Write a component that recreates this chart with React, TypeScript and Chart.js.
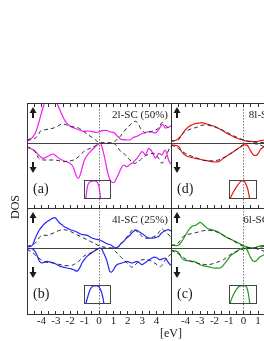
import React, { useEffect, useRef } from "react";
import { Chart, registerables } from "chart.js";

Chart.register(...registerables);

type Pt = [number, number];

// ---------- axis values ----------
const X_MIN = -5;
const X_MAX = 5;
const TICK_LABELS = [-4, -3, -2, -1, 0, 1, 2, 3, 4];
const MINOR_TICKS = [-4.5, -4, -3.5, -3, -2.5, -2, -1.5, -1, -0.5, 0, 0.5, 1, 1.5, 2, 2.5, 3, 3.5, 4, 4.5];

// ---------- panel (a): 2l-SC (50%) ----------
const A_UP: Pt[] = [[-5.0,0.2],[-4.77,0.35],[-4.42,1.0],[-4.19,2.0],[-4.0,3.0],[-3.85,3.7],[-3.66,4.6],[-3.45,5.3],[-3.2,5.0],[-2.92,4.0],[-2.57,2.83],[-2.34,2.17],[-1.99,1.67],[-1.72,1.5],[-1.42,1.33],[-1.07,1.17],[-0.74,1.2],[-0.49,1.17],[-0.19,1.05],[0.09,1.17],[0.33,1.27],[0.56,1.25],[0.78,1.1],[1.01,1.07],[1.2,0.8],[1.36,0.57],[1.55,0.35],[1.71,0.33],[1.97,0.3],[2.17,0.33],[2.38,0.55],[2.64,0.67],[2.87,0.85],[3.1,1.0],[3.33,1.1],[3.56,1.17],[3.77,1.05],[3.91,1.0],[4.14,1.33],[4.26,1.6],[4.38,1.83],[4.47,1.8],[4.6,1.5],[4.78,1.55],[4.95,1.67],[5.0,1.7]];
const A_UP_REF: Pt[] = [[-5.0,0.33],[-4.77,0.4],[-4.42,0.5],[-4.22,0.8],[-4.08,1.17],[-3.73,1.33],[-3.45,1.4],[-3.15,1.5],[-2.9,1.65],[-2.57,1.9],[-2.34,1.85],[-1.99,1.67],[-1.72,1.6],[-1.42,1.5],[-1.16,1.25],[-0.83,0.9],[-0.53,0.6],[-0.26,0.33],[0,0.05],[0.37,0.02],[0.78,0.02],[1.01,0.05],[1.27,0.4],[1.48,0.67],[1.71,1.1],[1.94,1.5],[2.24,1.9],[2.52,2.17],[2.69,2.0],[2.87,1.5],[3.04,1.2],[3.22,1.0],[3.42,1.05],[3.68,1.17],[3.91,1.3],[4.14,1.5],[4.38,2.03],[4.53,1.9],[4.74,1.6],[4.95,1.5],[5.0,1.48]];
const A_DOWN: Pt[] = [[-5.0,-0.4],[-4.77,-0.55],[-4.54,-0.7],[-4.35,-0.95],[-4.19,-1.2],[-4.01,-1.45],[-3.85,-1.53],[-3.66,-1.4],[-3.5,-1.3],[-3.31,-1.15],[-3.15,-1.1],[-3.03,-1.25],[-2.92,-1.37],[-2.76,-1.55],[-2.57,-1.7],[-2.41,-1.8],[-2.22,-1.87],[-2.06,-2.0],[-1.88,-2.2],[-1.75,-2.55],[-1.65,-3.03],[-1.51,-3.45],[-1.42,-3.53],[-1.3,-3.15],[-1.18,-2.53],[-1.07,-1.95],[-0.95,-1.53],[-0.78,-1.15],[-0.6,-0.87],[-0.43,-0.6],[-0.26,-0.37],[-0.08,-0.15],[0.09,-0.03],[0.21,-0.4],[0.32,-1.03],[0.44,-1.8],[0.56,-2.7],[0.67,-3.3],[0.78,-3.7],[0.92,-3.95],[1.05,-3.95],[1.17,-3.65],[1.27,-3.37],[1.48,-2.7],[1.6,-2.35],[1.71,-2.2],[1.83,-2.3],[1.94,-2.37],[2.1,-2.2],[2.29,-2.03],[2.45,-1.8],[2.64,-1.53],[2.8,-1.2],[2.99,-0.87],[3.11,-1.0],[3.22,-1.2],[3.33,-0.9],[3.44,-0.53],[3.56,-0.65],[3.68,-0.87],[3.81,-1.25],[3.91,-1.53],[4.03,-1.3],[4.14,-1.03],[4.26,-1.1],[4.38,-1.2],[4.49,-0.9],[4.6,-0.7],[4.72,-1.1],[4.83,-1.7],[4.95,-2.03],[5.0,-2.1]];
const A_DOWN_REF: Pt[] = [[-5.0,-0.37],[-4.77,-0.5],[-4.54,-0.7],[-4.35,-1.1],[-4.19,-1.53],[-4.0,-1.65],[-3.85,-1.7],[-3.52,-1.7],[-3.15,-1.7],[-2.83,-1.75],[-2.46,-1.87],[-2.13,-1.8],[-1.76,-1.7],[-1.42,-1.37],[-1.07,-0.87],[-0.81,-0.65],[-0.6,-0.53],[-0.36,-0.35],[-0.14,-0.2],[0,-0.03],[0.37,-0.02],[0.78,-0.02],[1.01,-0.03],[1.2,-0.25],[1.38,-0.6],[1.51,-0.85],[1.71,-1.03],[1.9,-1.3],[2.07,-1.6],[2.29,-1.87],[2.42,-2.03],[2.52,-2.03],[2.69,-1.85],[2.87,-1.7],[3.08,-1.4],[3.33,-1.2],[3.56,-1.05],[3.79,-1.03],[3.98,-1.25],[4.14,-1.53],[4.38,-2.03],[4.5,-1.8],[4.6,-1.53],[4.78,-0.9],[4.95,-0.37],[5.0,-0.3]];

// ---------- panel (b): 4l-SC (25%) ----------
const B_UP: Pt[] = [[-5.0,0.13],[-4.77,0.16],[-4.6,0.33],[-4.42,1.0],[-4.25,1.53],[-4.08,1.93],[-3.9,2.23],[-3.73,2.5],[-3.56,2.68],[-3.38,2.83],[-3.24,2.96],[-3.1,3.03],[-3.0,2.98],[-2.9,2.78],[-2.76,2.53],[-2.57,2.33],[-2.41,2.13],[-2.22,2.0],[-1.99,1.83],[-1.76,1.73],[-1.51,1.58],[-1.3,1.4],[-1.09,1.33],[-0.83,1.26],[-0.67,1.15],[-0.49,1.0],[-0.26,0.9],[0,0.83],[0.23,0.68],[0.44,0.5],[0.65,0.38],[0.85,0.28],[1.13,0.0],[1.36,0.16],[1.55,0.48],[1.71,0.66],[1.9,0.98],[2.06,1.16],[2.24,1.43],[2.4,1.66],[2.59,1.78],[2.75,1.66],[2.94,1.48],[3.1,1.33],[3.28,1.13],[3.44,1.0],[3.63,0.98],[3.79,1.0],[3.98,1.08],[4.14,1.16],[4.33,1.48],[4.49,1.66],[4.67,1.78],[4.83,1.83],[4.95,1.73],[5.0,1.7]];
const B_UP_REF: Pt[] = [[-5.0,0.16],[-4.7,0.28],[-4.42,0.5],[-4.25,0.83],[-4.08,1.16],[-3.87,1.28],[-3.61,1.26],[-3.38,1.38],[-3.15,1.5],[-2.81,1.73],[-2.46,1.83],[-2.22,1.78],[-1.99,1.66],[-1.76,1.5],[-1.53,1.33],[-1.3,1.16],[-1.07,1.0],[-0.83,0.83],[-0.6,0.66],[-0.38,0.5],[-0.14,0.33],[0.09,0.16],[0.44,0.08],[0.78,0.0],[1.25,0.0],[1.48,0.33],[1.71,0.66],[1.9,1.03],[2.06,1.33],[2.24,1.68],[2.4,1.93],[2.56,1.73],[2.75,1.5],[2.94,1.23],[3.1,1.0],[3.33,0.98],[3.56,1.0],[3.79,1.13],[4.03,1.33],[4.19,1.63],[4.38,1.93],[4.53,1.73],[4.72,1.5],[4.95,1.16],[5.0,1.1]];
const B_DOWN: Pt[] = [[-5.0,-0.12],[-4.77,-0.05],[-4.54,-0.17],[-4.35,-0.57],[-4.19,-1.17],[-4.08,-1.42],[-3.96,-1.5],[-3.8,-1.42],[-3.61,-1.34],[-3.38,-1.42],[-3.15,-1.5],[-2.92,-1.67],[-2.69,-1.84],[-2.48,-1.92],[-2.22,-2.0],[-1.99,-2.07],[-1.76,-2.17],[-1.53,-2.32],[-1.42,-2.17],[-1.3,-1.87],[-1.18,-1.5],[-1.02,-1.17],[-0.83,-0.84],[-0.6,-0.57],[-0.38,-0.34],[-0.14,-0.14],[0.09,0.0],[0.21,-0.17],[0.32,-0.5],[0.44,-0.87],[0.56,-1.34],[0.67,-1.97],[0.75,-2.37],[0.85,-2.42],[1.01,-2.17],[1.13,-1.87],[1.25,-1.67],[1.41,-1.57],[1.6,-1.5],[1.76,-1.42],[1.94,-1.34],[2.1,-1.42],[2.29,-1.5],[2.45,-1.42],[2.64,-1.34],[2.8,-1.47],[2.99,-1.67],[3.15,-1.52],[3.33,-1.34],[3.5,-1.17],[3.68,-1.0],[3.84,-0.92],[4.03,-1.0],[4.15,-1.12],[4.26,-1.17],[4.43,-1.07],[4.6,-1.0],[4.78,-1.37],[4.95,-1.67],[5.0,-1.72]];
const B_DOWN_REF: Pt[] = [[-5.0,-0.17],[-4.7,-0.37],[-4.31,-0.84],[-4.08,-1.12],[-3.85,-1.34],[-3.52,-1.45],[-3.15,-1.5],[-2.83,-1.62],[-2.46,-1.74],[-2.17,-1.77],[-1.88,-1.74],[-1.65,-1.57],[-1.42,-1.34],[-1.23,-1.07],[-1.07,-0.84],[-0.83,-0.62],[-0.6,-0.5],[-0.26,-0.22],[0,-0.05],[0.37,-0.02],[0.78,-0.02],[0.96,-0.12],[1.13,-0.34],[1.31,-0.57],[1.48,-0.84],[1.71,-1.17],[1.94,-1.5],[2.1,-1.72],[2.29,-1.92],[2.42,-1.82],[2.64,-1.5],[2.8,-1.32],[2.99,-1.17],[3.33,-1.17],[3.68,-1.34],[4.03,-1.67],[4.26,-1.87],[4.4,-1.67],[4.6,-1.17],[4.78,-0.87],[4.95,-0.67],[5.0,-0.62]];

// ---------- panel (d): 8l-SC (12.5%) ----------
const D_UP: Pt[] = [[-5.0,0.2],[-4.61,0.3],[-4.45,0.5],[-4.26,0.8],[-4.1,1.15],[-3.91,1.47],[-3.76,1.65],[-3.57,1.8],[-3.41,1.9],[-3.22,1.97],[-3.06,2.0],[-2.88,2.03],[-2.72,1.98],[-2.53,1.9],[-2.3,1.8],[-2.07,1.7],[-1.84,1.55],[-1.61,1.37],[-1.38,1.2],[-1.15,0.97],[-0.92,0.8],[-0.69,0.63],[-0.46,0.5],[-0.23,0.37],[0,0.27],[0.24,0.2],[0.46,0.17],[0.81,0.13],[1.02,0.17],[1.15,0.23],[1.43,0.3],[1.71,0.4]];
const D_UP_REF: Pt[] = [[-5.0,0.2],[-4.72,0.23],[-4.5,0.3],[-4.31,0.7],[-4.17,1.0],[-4.03,1.13],[-3.69,1.37],[-3.22,1.57],[-2.77,1.8],[-2.53,1.8],[-2.3,1.73],[-1.84,1.53],[-1.38,1.23],[-0.92,0.9],[-0.46,0.57],[0,0.3],[0.46,0.13],[0.93,0.07],[1.43,0.03],[1.71,0.05]];
const D_DOWN: Pt[] = [[-5.0,-0.2],[-4.61,-0.27],[-4.48,-0.35],[-4.38,-0.53],[-4.26,-0.87],[-4.14,-1.08],[-4.03,-1.2],[-3.8,-1.37],[-3.57,-1.45],[-3.34,-1.53],[-3.06,-1.6],[-2.77,-1.7],[-2.48,-1.77],[-2.19,-1.87],[-1.96,-1.9],[-1.73,-1.87],[-1.58,-1.75],[-1.38,-1.53],[-1.21,-1.35],[-1.04,-1.2],[-0.86,-1.02],[-0.69,-0.87],[-0.52,-0.7],[-0.35,-0.53],[-0.16,-0.35],[0,-0.2],[0.15,-0.18],[0.28,-0.25],[0.37,-0.48],[0.46,-0.7],[0.58,-1.0],[0.69,-1.2],[0.81,-1.25],[0.93,-1.2],[1.05,-0.95],[1.15,-0.7],[1.29,-0.5],[1.43,-0.37],[1.71,-0.3]];
const D_DOWN_REF: Pt[] = [[-5.0,-0.2],[-4.72,-0.35],[-4.5,-0.53],[-4.26,-0.8],[-4.03,-1.03],[-3.76,-1.23],[-3.46,-1.37],[-3.17,-1.53],[-2.88,-1.7],[-2.58,-1.78],[-2.3,-1.8],[-2.03,-1.77],[-1.73,-1.7],[-1.44,-1.52],[-1.15,-1.3],[-0.92,-1.08],[-0.69,-0.87],[-0.46,-0.62],[-0.23,-0.37],[-0.06,-0.2],[0.12,-0.1],[0.35,-0.05],[0.58,-0.03],[0.88,-0.1],[1.15,-0.2],[1.43,-0.37],[1.71,-0.45]];

// ---------- panel (c): 6l-SC (16.67%) ----------
const C_UP: Pt[] = [[-5.0,0.33],[-4.61,0.23],[-4.45,0.33],[-4.26,0.66],[-4.1,1.03],[-3.91,1.5],[-3.76,1.83],[-3.57,2.16],[-3.41,2.23],[-3.22,2.33],[-3.1,2.48],[-2.99,2.56],[-2.88,2.48],[-2.77,2.33],[-2.65,2.15],[-2.53,2.0],[-2.37,1.9],[-2.19,1.83],[-1.96,1.73],[-1.73,1.6],[-1.49,1.38],[-1.27,1.16],[-1.04,0.98],[-0.8,0.83],[-0.57,0.66],[-0.35,0.5],[-0.11,0.33],[0.12,0.16],[0.35,0.06],[0.58,0.0],[0.81,0.05],[1.04,0.16],[1.22,0.23],[1.43,0.23],[1.71,0.3]];
const C_UP_REF: Pt[] = [[-5.0,0.23],[-4.72,0.33],[-4.5,0.5],[-4.31,0.88],[-4.15,1.16],[-3.91,1.33],[-3.69,1.4],[-3.22,1.56],[-2.77,1.73],[-2.3,1.76],[-1.84,1.6],[-1.38,1.26],[-0.92,0.9],[-0.46,0.5],[0,0.16],[0.46,0.0],[0.74,0.0],[1.04,0.06],[1.43,0.16],[1.71,0.25]];
const C_DOWN: Pt[] = [[-5.0,-0.24],[-4.61,-0.34],[-4.45,-0.52],[-4.26,-1.0],[-4.1,-1.2],[-3.91,-1.27],[-3.69,-1.3],[-3.46,-1.34],[-3.22,-1.47],[-2.99,-1.67],[-2.77,-1.77],[-2.53,-1.84],[-2.3,-1.92],[-2.07,-2.0],[-1.84,-2.02],[-1.61,-2.0],[-1.44,-1.82],[-1.27,-1.5],[-1.09,-1.17],[-0.92,-0.84],[-0.75,-0.62],[-0.57,-0.44],[-0.4,-0.27],[-0.23,-0.1],[-0.06,-0.02],[0.12,0.0],[0.24,-0.17],[0.35,-0.5],[0.46,-0.87],[0.58,-1.17],[0.69,-1.32],[0.81,-1.34],[0.93,-1.22],[1.04,-1.0],[1.22,-0.82],[1.43,-0.67],[1.71,-0.55]];
const C_DOWN_REF: Pt[] = [[-5.0,-0.24],[-4.72,-0.42],[-4.38,-0.67],[-4.15,-0.95],[-3.91,-1.17],[-3.57,-1.37],[-3.22,-1.5],[-2.88,-1.6],[-2.53,-1.67],[-2.23,-1.62],[-1.96,-1.5],[-1.68,-1.35],[-1.38,-1.17],[-1.15,-0.92],[-0.92,-0.67],[-0.69,-0.47],[-0.46,-0.34],[-0.23,-0.2],[0,-0.1],[0.29,-0.03],[0.58,0.0],[0.88,-0.07],[1.15,-0.17],[1.43,-0.34],[1.71,-0.45]];

// ---------- insets (x in eV, y = fraction of inset height) ----------
const INSET_A: Pt[] = [[-0.92,-0.1],[-0.85,0.29],[-0.78,0.67],[-0.67,0.86],[-0.53,0.93],[-0.33,0.95],[-0.15,0.92],[-0.01,0.73],[0.07,0.4],[0.14,-0.04]];
const INSET_B: Pt[] = [[-0.92,-0.05],[-0.78,0.33],[-0.6,0.75],[-0.47,0.9],[-0.33,0.95],[-0.12,0.95],[0.02,0.9],[0.19,0.63],[0.3,0.3],[0.37,-0.05]];
const INSET_D: Pt[] = [[-0.95,-0.04],[-0.71,0.34],[-0.44,0.67],[-0.23,0.89],[-0.09,0.97],[0.05,0.95],[0.19,0.78],[0.33,0.45],[0.46,-0.04]];
const INSET_C: Pt[] = [[-0.95,-0.05],[-0.78,0.33],[-0.57,0.65],[-0.37,0.87],[-0.19,0.95],[0.05,0.96],[0.22,0.9],[0.33,0.63],[0.41,0.26],[0.46,-0.05]];

const SERIF = "'Liberation Serif', 'Times New Roman', serif";
const INK = "#1a1a1a";
const FRAME = "#333333";
const REF_COLOR = "#2a2a2a";

const MAGENTA = "#f21cf2";
const BLUE = "#2424ff";
const RED = "#f01414";
const GREEN = "#1f9c1f";

function drawArrow(ctx: CanvasRenderingContext2D, x: number, y0: number, y1: number, up: boolean) {
  const hw = 3.5;
  const hh = 6;
  ctx.save();
  ctx.fillStyle = INK;
  ctx.strokeStyle = INK;
  ctx.lineWidth = 2;
  ctx.setLineDash([]);
  ctx.beginPath();
  if (up) {
    ctx.moveTo(x, y0 + hh - 1);
    ctx.lineTo(x, y1);
    ctx.stroke();
    ctx.beginPath();
    ctx.moveTo(x, y0);
    ctx.lineTo(x - hw, y0 + hh);
    ctx.lineTo(x + hw, y0 + hh);
    ctx.closePath();
    ctx.fill();
  } else {
    ctx.moveTo(x, y0);
    ctx.lineTo(x, y1 - hh + 1);
    ctx.stroke();
    ctx.beginPath();
    ctx.moveTo(x, y1);
    ctx.lineTo(x - hw, y1 - hh);
    ctx.lineTo(x + hw, y1 - hh);
    ctx.closePath();
    ctx.fill();
  }
  ctx.restore();
}

type PanelProps = {
  left: number;
  top: number;
  width: number;
  height: number;
  yMin: number;
  yMax: number;
  color: string;
  up: Pt[];
  down: Pt[];
  upRef: Pt[];
  downRef: Pt[];
  letter: string;
  label: string;
  topTicks: boolean;
  axis: boolean;
};

const PAD = 2;
const AXIS_H = 18;
const TICK_LEN = 4;

function Panel(p: PanelProps) {
  const ref = useRef<HTMLCanvasElement>(null);
  const cw = p.width + 2 * PAD;
  const ch = p.height + PAD + (p.axis ? AXIS_H : PAD);

  useEffect(() => {
    const canvas = ref.current;
    if (!canvas) return;
    const deco = {
      id: "deco",
      beforeDatasetsDraw(chart: any) {
        const { ctx, chartArea: a } = chart;
        const xs = chart.scales.x;
        const ys = chart.scales.y;
        ctx.save();
        const y0 = Math.round(ys.getPixelForValue(0)) + 0.5;
        ctx.strokeStyle = "#444";
        ctx.lineWidth = 1;
        ctx.beginPath();
        ctx.moveTo(a.left, y0);
        ctx.lineTo(a.right, y0);
        ctx.stroke();
        const x0 = Math.floor(xs.getPixelForValue(0)) + 0.5;
        ctx.strokeStyle = "#777";
        ctx.setLineDash([1.5, 1.5]);
        ctx.beginPath();
        ctx.moveTo(x0, a.top);
        ctx.lineTo(x0, a.bottom);
        ctx.stroke();
        ctx.restore();
      },
      afterDraw(chart: any) {
        const { ctx, chartArea: a } = chart;
        const xs = chart.scales.x;
        ctx.save();
        ctx.strokeStyle = FRAME;
        ctx.lineWidth = 1;
        ctx.setLineDash([]);
        ctx.strokeRect(a.left + 0.5, a.top + 0.5, a.right - a.left, a.bottom - a.top);
        ctx.beginPath();
        for (const v of MINOR_TICKS) {
          const x = Math.floor(xs.getPixelForValue(v)) + 0.5;
          if (p.topTicks) {
            ctx.moveTo(x, a.top);
            ctx.lineTo(x, a.top + TICK_LEN);
          }
          ctx.moveTo(x, a.bottom + 1);
          ctx.lineTo(x, a.bottom + 1 - TICK_LEN);
        }
        ctx.stroke();
        ctx.restore();

        drawArrow(ctx, a.left + 6, a.top + 4, a.top + 15, true);
        drawArrow(ctx, a.left + 6, a.top + 59, a.top + 70, false);

        ctx.save();
        ctx.fillStyle = INK;
        ctx.textBaseline = "middle";
        ctx.textAlign = "left";
        ctx.font = `14px ${SERIF}`;
        ctx.fillText(p.letter, a.left + 6, a.top + 86);
        ctx.font = `11px ${SERIF}`;
        ctx.textAlign = "right";
        ctx.fillText(p.label, a.right - 3, a.top + 12);
        ctx.restore();
      },
    };

    const line = (pts: Pt[], color: string, dashed: boolean) => ({
      data: pts.map(([x, y]) => ({ x, y })),
      borderColor: color,
      borderWidth: dashed ? 1 : 1.2,
      borderDash: dashed ? [4, 3] : [],
      pointRadius: 0,
      fill: false,
      cubicInterpolationMode: "monotone" as const,
    });

    const xScale: any = {
      type: "linear",
      min: X_MIN,
      max: X_MAX,
      display: p.axis,
      grid: { display: false, drawTicks: false },
      border: { display: false },
      afterBuildTicks: (s: any) => {
        s.ticks = TICK_LABELS.map((v) => ({ value: v }));
      },
      ticks: {
        autoSkip: false,
        maxRotation: 0,
        padding: 1,
        color: INK,
        font: { family: SERIF, size: 11 },
        callback: (v: any) => String(v),
      },
    };
    if (p.axis) {
      xScale.afterFit = (s: any) => {
        s.height = AXIS_H;
      };
    }

    const chart = new Chart(canvas, {
      type: "line",
      data: {
        datasets: [
          line(p.upRef, REF_COLOR, true),
          line(p.downRef, REF_COLOR, true),
          line(p.up, p.color, false),
          line(p.down, p.color, false),
        ],
      },
      options: {
        animation: false,
        responsive: false,
        maintainAspectRatio: false,
        devicePixelRatio: 1,
        events: [],
        layout: { padding: { left: PAD, right: PAD, top: PAD, bottom: p.axis ? 0 : PAD } },
        plugins: { legend: { display: false }, tooltip: { enabled: false } },
        scales: {
          x: xScale,
          y: { type: "linear", min: p.yMin, max: p.yMax, display: false },
        },
      } as any,
      plugins: [deco],
    });
    return () => chart.destroy();
  }, []);

  return (
    <canvas
      ref={ref}
      width={cw}
      height={ch}
      style={{ position: "absolute", left: p.left - PAD, top: p.top - PAD, width: cw, height: ch }}
    />
  );
}

type InsetProps = { left: number; top: number; width: number; height: number; xMin: number; xMax: number; pts: Pt[]; color: string };

function Inset(p: InsetProps) {
  const ref = useRef<HTMLCanvasElement>(null);
  useEffect(() => {
    const canvas = ref.current;
    if (!canvas) return;
    const box = {
      id: "box",
      afterDraw(chart: any) {
        const { ctx } = chart;
        ctx.save();
        ctx.strokeStyle = "#444";
        ctx.lineWidth = 1;
        ctx.strokeRect(0.5, 0.5, p.width - 1, p.height - 1);
        ctx.restore();
      },
    };
    const chart = new Chart(canvas, {
      type: "line",
      data: {
        datasets: [
          {
            data: p.pts.map(([x, y]) => ({ x, y })),
            borderColor: p.color,
            borderWidth: 1.2,
            pointRadius: 0,
            fill: false,
            cubicInterpolationMode: "monotone",
          },
        ],
      },
      options: {
        animation: false,
        responsive: false,
        maintainAspectRatio: false,
        devicePixelRatio: 1,
        events: [],
        layout: { padding: 0 },
        plugins: { legend: { display: false }, tooltip: { enabled: false } },
        scales: {
          x: { type: "linear", min: p.xMin, max: p.xMax, display: false },
          y: { type: "linear", min: 0, max: 1, display: false },
        },
      } as any,
      plugins: [box],
    });
    return () => chart.destroy();
  }, []);
  return (
    <canvas
      ref={ref}
      width={p.width}
      height={p.height}
      style={{ position: "absolute", left: p.left, top: p.top, width: p.width, height: p.height }}
    />
  );
}

export default function App() {
  const LX = 27;
  const RX = 171;
  const W_L = 144;
  const W_R = 145;
  const TOP_A = 103;
  const TOP_B = 208;
  return (
    <div
      style={{
        position: "fixed",
        left: 0,
        top: 0,
        width: 264,
        height: 341,
        overflow: "hidden",
        background: "#fff",
        fontFamily: SERIF,
      }}
    >
      <Panel left={LX} top={TOP_A} width={W_L} height={105} yMin={-6.5} yMax={4} color={MAGENTA}
        up={A_UP} down={A_DOWN} upRef={A_UP_REF} downRef={A_DOWN_REF} letter="(a)" label="2l-SC (50%)" topTicks={true} axis={false} />
      <Panel left={LX} top={TOP_B} width={W_L} height={106} yMin={-6.6} yMax={4} color={BLUE}
        up={B_UP} down={B_DOWN} upRef={B_UP_REF} downRef={B_DOWN_REF} letter="(b)" label="4l-SC (25%)" topTicks={false} axis={true} />
      <Panel left={RX} top={TOP_A} width={W_R} height={105} yMin={-6.5} yMax={4} color={RED}
        up={D_UP} down={D_DOWN} upRef={D_UP_REF} downRef={D_DOWN_REF} letter="(d)" label="8l-SC (12.5%)" topTicks={true} axis={false} />
      <Panel left={RX} top={TOP_B} width={W_R} height={106} yMin={-6.6} yMax={4} color={GREEN}
        up={C_UP} down={C_DOWN} upRef={C_UP_REF} downRef={C_DOWN_REF} letter="(c)" label="6l-SC (16.67%)" topTicks={false} axis={true} />

      <Inset left={84} top={180} width={27} height={19} xMin={-1.02} xMax={0.85} pts={INSET_A} color={MAGENTA} />
      <Inset left={84} top={285} width={27} height={19} xMin={-1.02} xMax={0.85} pts={INSET_B} color={BLUE} />
      <Inset left={229} top={180} width={28} height={19} xMin={-0.99} xMax={0.95} pts={INSET_D} color={RED} />
      <Inset left={229} top={285} width={28} height={19} xMin={-0.99} xMax={0.95} pts={INSET_C} color={GREEN} />

      <div
        style={{
          position: "absolute",
          left: 15,
          top: 207,
          transform: "translate(-50%, -50%) rotate(-90deg)",
          fontSize: 12,
          color: INK,
          whiteSpace: "nowrap",
          lineHeight: 1,
        }}
      >
        DOS
      </div>
      <div
        style={{
          position: "absolute",
          left: 171,
          top: 333,
          transform: "translate(-50%, -50%)",
          fontSize: 12,
          color: INK,
          whiteSpace: "nowrap",
          lineHeight: 1,
        }}
      >
        [eV]
      </div>
    </div>
  );
}
